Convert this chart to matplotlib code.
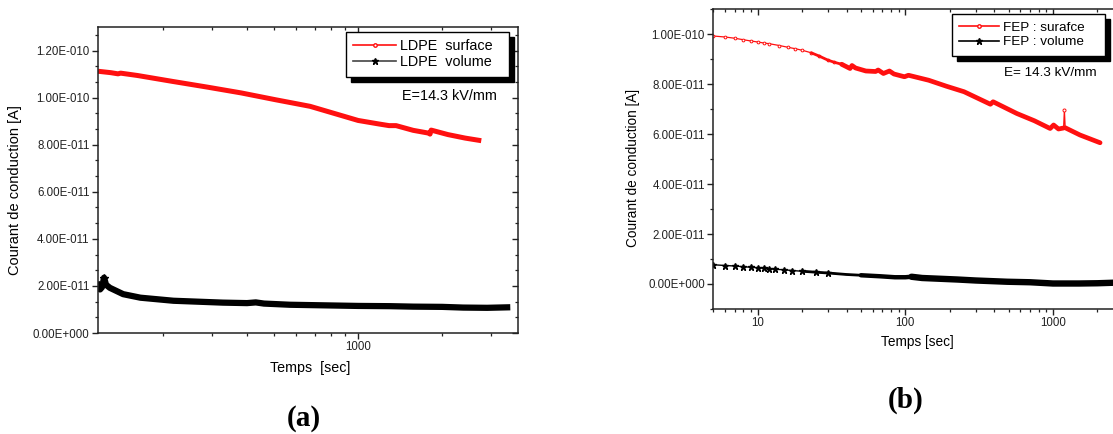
import matplotlib
matplotlib.use("Agg")
import matplotlib.pyplot as plt
from matplotlib.lines import Line2D
from matplotlib.patches import Rectangle
from matplotlib.ticker import FuncFormatter, LogLocator, NullFormatter, FixedLocator
from matplotlib.transforms import IdentityTransform

plt.rcParams['font.family'] = ['Liberation Sans', 'DejaVu Sans']

# ---------------- data ----------------
# (a) LDPE
ldpe_surf_t = [117, 130, 138, 141, 162, 216, 287, 381, 506, 673, 894, 1000, 1187,
               1291, 1368, 1575, 1792, 1810, 1827, 2097, 2420, 2762]
ldpe_surf_i = [1.112e-10, 1.106e-10, 1.101e-10, 1.104e-10, 1.094e-10, 1.069e-10, 1.045e-10,
               1.020e-10, 0.991e-10, 0.963e-10, 0.920e-10, 0.903e-10, 0.888e-10,
               0.881e-10, 0.881e-10, 0.861e-10, 0.849e-10, 0.845e-10, 0.862e-10, 0.843e-10,
               0.828e-10, 0.817e-10]

ldpe_vol_t = [117, 119, 121, 123, 125, 129, 144, 166, 218, 328, 400, 430, 460, 570,
              1000, 1300, 1575, 2000, 2380, 2900, 3420]
ldpe_vol_i = [2.04e-11, 1.85e-11, 1.95e-11, 2.35e-11, 2.05e-11, 1.92e-11, 1.65e-11, 1.50e-11,
              1.37e-11, 1.29e-11, 1.27e-11, 1.30e-11, 1.25e-11, 1.20e-11,
              1.15e-11, 1.14e-11, 1.12e-11, 1.11e-11, 1.08e-11, 1.07e-11, 1.09e-11]

# (b) FEP
fep_surf_t = [5, 6, 7, 8, 9, 10, 11, 12, 14, 16, 18, 20, 23, 26, 30, 33, 37, 42.2, 43.5, 46,
              54, 63, 65.4, 71, 78, 83.7, 98.6, 105, 144, 190, 250, 377, 393, 569, 748,
              957, 1010, 1090, 1180, 1195, 1210, 1524, 2085]
fep_surf_i = [9.92e-11, 9.88e-11, 9.83e-11, 9.77e-11, 9.72e-11, 9.68e-11, 9.64e-11, 9.61e-11,
              9.54e-11, 9.47e-11, 9.41e-11, 9.35e-11, 9.25e-11, 9.12e-11, 8.95e-11, 8.87e-11,
              8.79e-11, 8.62e-11, 8.74e-11, 8.64e-11, 8.52e-11, 8.50e-11, 8.56e-11, 8.42e-11,
              8.52e-11, 8.40e-11, 8.29e-11, 8.35e-11, 8.15e-11, 7.91e-11, 7.69e-11, 7.19e-11,
              7.29e-11, 6.82e-11, 6.53e-11, 6.22e-11, 6.36e-11, 6.20e-11, 6.24e-11, 6.96e-11,
              6.25e-11, 5.96e-11, 5.65e-11]

fep_vol_t = [5, 6, 7, 8, 9, 10, 11, 12, 13, 15, 17, 20, 25, 30, 40, 50, 67, 85, 100, 110,
             130, 224, 300, 490, 700, 1000, 1500, 2000, 2550, 3000]
fep_vol_i = [7.7e-12, 7.4e-12, 7.2e-12, 6.9e-12, 6.7e-12, 6.5e-12, 6.3e-12, 6.1e-12, 5.9e-12,
             5.7e-12, 5.4e-12, 5.1e-12, 4.7e-12, 4.4e-12, 3.8e-12, 3.5e-12, 3.1e-12, 2.7e-12,
             2.7e-12, 2.9e-12, 2.4e-12, 1.8e-12, 1.4e-12, 0.9e-12, 0.7e-12, 0.2e-12, 0.2e-12,
             0.3e-12, 0.5e-12, 0.8e-12]

yticks_a = [0, 2e-11, 4e-11, 6e-11, 8e-11, 1e-10, 1.2e-10]
yticks_b = [0, 2e-11, 4e-11, 6e-11, 8e-11, 1e-10]
labels_a = ["LDPE  surface", "LDPE  volume"]
labels_b = ["FEP : surafce", "FEP : volume"]
field_a = "E=14.3 kV/mm"
field_b = "E= 14.3 kV/mm"
xlabel_a = "Temps  [sec]"
xlabel_b = "Temps [sec]"
ylabel = "Courant de conduction [A]"

RED = "#ff1010"

# ---------------- figure ----------------
W, H = 1113, 434
fig = plt.figure(figsize=(W / 100, H / 100), dpi=100)


def px_axes(l, r, t, b):
    return fig.add_axes([l / W, (H - b) / H, (r - l) / W, (b - t) / H])


def sci(v, pos):
    if abs(v) < 1e-16:
        return "0.00E+000"
    m, e = f"{v:.2E}".split("E")
    e = int(e)
    return f"{m}E{'+' if e >= 0 else '-'}{abs(e):03d}"


def style_axes(ax, tick_fs):
    for s in ax.spines.values():
        s.set_linewidth(1.1)
        s.set_color("#222222")
    ax.tick_params(axis="both", which="major", length=4, width=1, labelsize=tick_fs,
                   colors="#222222", pad=2)
    ax.tick_params(axis="both", which="minor", length=2.2, width=0.9, colors="#222222")
    ax.tick_params(axis="x", which="both", top=True, direction="out")
    ax.tick_params(axis="y", which="both", right=True, direction="out")
    for t in ax.xaxis.get_major_ticks() + ax.xaxis.get_minor_ticks():
        t.tick2line.set_marker(3)
    for t in ax.yaxis.get_major_ticks() + ax.yaxis.get_minor_ticks():
        t.tick2line.set_marker(0)
    ax.yaxis.set_major_formatter(FuncFormatter(sci))


def add_shadow(ax, leg, dx=5, dy=5):
    fig.canvas.draw()
    bb = leg.get_frame().get_window_extent(fig.canvas.get_renderer())
    r = Rectangle((bb.x0 + dx, bb.y0 - dy), bb.width, bb.height, transform=IdentityTransform(),
                  facecolor="black", edgecolor="black", zorder=4.9, clip_on=False)
    ax.add_artist(r)


def pix_text(ax, x, y, s, fs):
    t = ax.text(0, 0, s, fontsize=fs, va="center", ha="left")
    t.set_transform(IdentityTransform())
    t.set_position((x, H - y))
    return t


# ---------------- panel (a) ----------------
axa = px_axes(98, 518, 27, 333)
axa.set_xscale("log")
axa.set_xlim(117, 3740)
axa.set_ylim(0, 1.3e-10)
axa.plot(ldpe_surf_t, ldpe_surf_i, color=RED, lw=3.6, solid_capstyle="butt")
axa.plot(ldpe_vol_t, ldpe_vol_i, color="black", lw=4.5, solid_joinstyle="round")
axa.plot(ldpe_vol_t[3:4], ldpe_vol_i[3:4], ls="none", marker="*", ms=6, color="black")
axa.xaxis.set_major_locator(FixedLocator([1000]))
axa.xaxis.set_major_formatter(FuncFormatter(lambda v, p: f"{int(v)}"))
axa.xaxis.set_minor_locator(LogLocator(base=10, subs=range(2, 10)))
axa.xaxis.set_minor_formatter(NullFormatter())
axa.yaxis.set_major_locator(FixedLocator(yticks_a))
axa.yaxis.set_minor_locator(FixedLocator([v + d for v in yticks_a for d in (2e-11 / 3, 4e-11 / 3)
                                          if v + d < 1.3e-10]))
style_axes(axa, 8.3)

ha = [Line2D([], [], color=RED, lw=1.2, marker="o", ms=2.5, mfc="white", mec=RED),
      Line2D([], [], color="#444444", lw=1.2, marker="*", ms=5, mfc="black", mec="black")]
lega = axa.legend(ha, labels_a, loc="upper left", bbox_to_anchor=(0.590, 0.0, 0.389, 0.984),
                  mode="expand", fontsize=10.4, frameon=True, fancybox=False, edgecolor="black",
                  framealpha=1, borderpad=0.5, labelspacing=0.15, handlelength=3.0,
                  handletextpad=0.25, borderaxespad=0)
lega.get_frame().set_linewidth(1.0)
pix_text(axa, 402, 96, field_a, 10.4)
fig.text(310 / W, 1 - 368 / H, xlabel_a, ha="center", va="center", fontsize=10.3)
fig.text(15 / W, 1 - 190 / H, ylabel, ha="center", va="center", rotation=90, fontsize=10.5)
fig.text(304 / W, 1 - 418 / H, "(a)", ha="center", va="center", fontsize=21,
         family="Liberation Serif", weight="bold")

# ---------------- panel (b) ----------------
axb = px_axes(713.3, 1123.4, 9, 309)
axb.set_xscale("log")
axb.set_xlim(5, 3000)
axb.set_ylim(-1e-11, 1.1e-10)
# surface: thin dotted start, thickening trace, thin spike
axb.plot(fep_surf_t, fep_surf_i, color=RED, lw=0.9, marker="o", ms=2, mfc="white",
         mec=RED, mew=0.7, markevery=slice(0, 17))
axb.plot(fep_surf_t[12:18], fep_surf_i[12:18], color=RED, lw=2.0, solid_capstyle="round")
axb.plot(fep_surf_t[16:39], fep_surf_i[16:39], color=RED, lw=3.4, solid_capstyle="round",
         solid_joinstyle="round")
axb.plot(fep_surf_t[40:], fep_surf_i[40:], color=RED, lw=3.4, solid_capstyle="round")
axb.plot(fep_surf_t[39:40], fep_surf_i[39:40], ls="none", marker="o", ms=2.2, mfc="white",
         mec=RED, mew=0.7)
# volume: thin with stars, then noisy band
axb.plot(fep_vol_t, fep_vol_i, color="black", lw=1.0, marker="*", ms=4.5, markevery=slice(0, 14))
axb.plot(fep_vol_t[11:], fep_vol_i[11:], color="black", lw=2.0, solid_capstyle="round")
axb.plot(fep_vol_t[15:], fep_vol_i[15:], color="black", lw=3.2, solid_capstyle="round")
axb.plot(fep_vol_t[19:], fep_vol_i[19:], color="black", lw=4.6, solid_capstyle="round")
axb.xaxis.set_major_locator(LogLocator(base=10))
axb.xaxis.set_major_formatter(FuncFormatter(lambda v, p: f"{int(round(v))}"))
axb.xaxis.set_minor_locator(LogLocator(base=10, subs=range(2, 10)))
axb.xaxis.set_minor_formatter(NullFormatter())
axb.yaxis.set_major_locator(FixedLocator(yticks_b))
axb.yaxis.set_minor_locator(FixedLocator([-1e-11] + [v + 1e-11 for v in yticks_b]))
style_axes(axb, 8.3)

hb = [Line2D([], [], color=RED, lw=1.2, marker="o", ms=2.5, mfc="white", mec=RED),
      Line2D([], [], color="black", lw=1.2, marker="*", ms=5, mfc="black", mec="black")]
legb = axb.legend(hb, labels_b, loc="upper left", bbox_to_anchor=(0.581, 0.0, 0.373, 0.983),
                  mode="expand", fontsize=9.7, frameon=True, fancybox=False, edgecolor="black",
                  framealpha=1, borderpad=0.55, labelspacing=0.15, handlelength=3.0,
                  handletextpad=0.3, borderaxespad=0)
legb.get_frame().set_linewidth(1.0)
pix_text(axb, 1004, 73, field_b, 9.7)
fig.text(917 / W, 1 - 342 / H, xlabel_b, ha="center", va="center", fontsize=9.8)
fig.text(633 / W, 1 - 168 / H, ylabel, ha="center", va="center", rotation=90, fontsize=9.8)
fig.text(906 / W, 1 - 400 / H, "(b)", ha="center", va="center", fontsize=21,
         family="Liberation Serif", weight="bold")

add_shadow(axa, lega)
add_shadow(axb, legb)

fig.savefig("out.png", dpi=100)
